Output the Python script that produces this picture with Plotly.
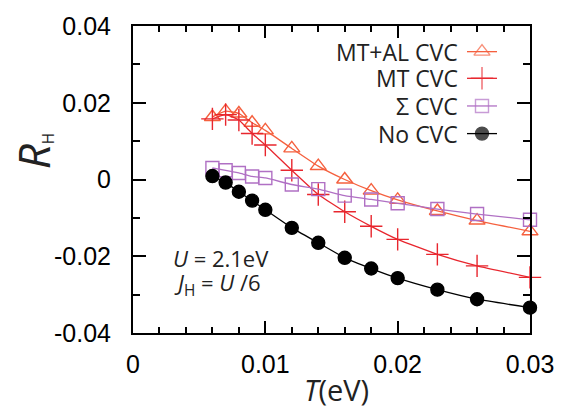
import plotly.graph_objects as go

T = [0.006, 0.007, 0.008, 0.009, 0.010, 0.012, 0.014, 0.016, 0.018, 0.020, 0.023, 0.026, 0.030]
mt_al = [0.0163, 0.0178, 0.0172, 0.0148, 0.0128, 0.0081, 0.0035, 0.0000, -0.0029, -0.0053, -0.0082, -0.0107, -0.0135]
mt = [0.0158, 0.0169, 0.0155, 0.0120, 0.0090, 0.0024, -0.0039, -0.0084, -0.0122, -0.0156, -0.0195, -0.0225, -0.0255]
sigma = [0.0030, 0.0024, 0.0017, 0.0008, 0.0004, -0.0013, -0.0025, -0.0042, -0.0052, -0.0062, -0.0077, -0.0090, -0.0105]
no_cvc = [0.0009, -0.0008, -0.0032, -0.0055, -0.0079, -0.0126, -0.0165, -0.0204, -0.0232, -0.0257, -0.0287, -0.0312, -0.0334]

names = ["MT+AL CVC", "MT CVC", "Σ CVC", "No CVC"]
series = [mt_al, mt, sigma, no_cvc]
colors = ["#F5603E", "#E8262E", "#B070C4", "#000000"]
symbols = ["triangle-up-open", "cross-thin-open", "square-open", "circle"]
msizes = [14, 16, 13, 13]

# figure geometry (pixels)
W, H = 572, 410
L, R, TOP, B = 133, 42, 22, 77
PX0, PX1, PY0, PY1 = L, W - R, H - B, TOP


def px(x):
    return (x - PX0) / (PX1 - PX0)


def py(y):
    return (PY0 - y) / (PY0 - PY1)


fig = go.Figure()
for name, ys, c, s, ms in zip(names, series, colors, symbols, msizes):
    fig.add_trace(go.Scatter(
        x=T, y=ys, mode="lines+markers", name=name,
        line=dict(color=c, width=1.3, shape="spline", smoothing=0.4),
        marker=dict(symbol=s, size=ms, color=c, line=dict(color=c, width=1.4)),
        showlegend=False, cliponaxis=False))

# custom legend (key on the right of text), in pixel overlay axes
leg_y = [48, 75, 103, 131]
for name, c, s, ms, yy in zip(names, colors, symbols, msizes, leg_y):
    fig.add_trace(go.Scatter(
        x=[467, 482, 497], y=[yy, yy, yy], xaxis="x2", yaxis="y2",
        mode="lines+markers", showlegend=False, hoverinfo="skip",
        line=dict(color=c, width=1.3),
        marker=dict(symbol=s, size=[0, ms, 0], color=c, line=dict(color=c, width=1.4)),
        cliponaxis=False))
    fig.add_annotation(x=px(460), y=py(yy), xref="paper", yref="paper", text=name,
                       showarrow=False, xanchor="right", yanchor="middle",
                       font=dict(family="Open Sans", size=23, color="#222222"))

axis_common = dict(showline=True, linecolor="black", linewidth=2, mirror="allticks",
                   ticks="inside", tickcolor="black", tickwidth=2, showgrid=False, zeroline=False,
                   tickfont=dict(family="Liberation Sans, Arial", size=25, color="black"))

fig.update_layout(
    width=W, height=H,
    margin=dict(l=L, r=R, t=TOP, b=B),
    paper_bgcolor="white", plot_bgcolor="white",
    xaxis=dict(range=[0, 0.03], tickvals=[0, 0.01, 0.02, 0.03], ticktext=["0", "0.01", "0.02", "0.03"],
               ticklen=12, ticklabelstandoff=8,
               minor=dict(dtick=0.002, ticks="inside", ticklen=6, tickwidth=2, tickcolor="black"),
               **axis_common),
    yaxis=dict(range=[-0.04, 0.04], tickvals=[-0.04, -0.02, 0, 0.02, 0.04],
               ticktext=["-0.04", "-0.02", "0", "0.02", "0.04"],
               ticklen=13, ticklabelstandoff=15,
               minor=dict(dtick=0.01, ticks="inside", ticklen=7, tickwidth=2, tickcolor="black"),
               **axis_common),
    xaxis2=dict(range=[PX0, PX1], overlaying="x", anchor="y2", visible=False, domain=[0, 1]),
    yaxis2=dict(range=[PY0, PY1], overlaying="y", anchor="x2", visible=False, domain=[0, 1]),
)

# axis titles and text annotations (paper coords from pixel positions)
fig.add_annotation(x=px(33), y=py(149), xref="paper", yref="paper", textangle=-90, showarrow=False,
                   xanchor="center", yanchor="middle",
                   text="<i>R</i><span style='font-size:22px'><sub>H</sub></span>",
                   font=dict(family="Open Sans", size=44, color="#222222"))
fig.add_annotation(x=px(336), y=py(390), xref="paper", yref="paper", showarrow=False,
                   xanchor="center", yanchor="middle",
                   text="<i>T</i>(eV)",
                   font=dict(family="Open Sans", size=29, color="#222222"))
fig.add_annotation(x=px(171), y=py(257), xref="paper", yref="paper", showarrow=False,
                   xanchor="left", yanchor="middle",
                   text="<i>U</i> = 2.1eV",
                   font=dict(family="Open Sans", size=22, color="#222222"))
fig.add_annotation(x=px(172), y=py(283), xref="paper", yref="paper", showarrow=False,
                   xanchor="left", yanchor="middle",
                   text="<i>J</i><sub>H</sub> = <i>U</i> /6",
                   font=dict(family="Open Sans", size=22, color="#222222"))

fig.write_html("out.html")
